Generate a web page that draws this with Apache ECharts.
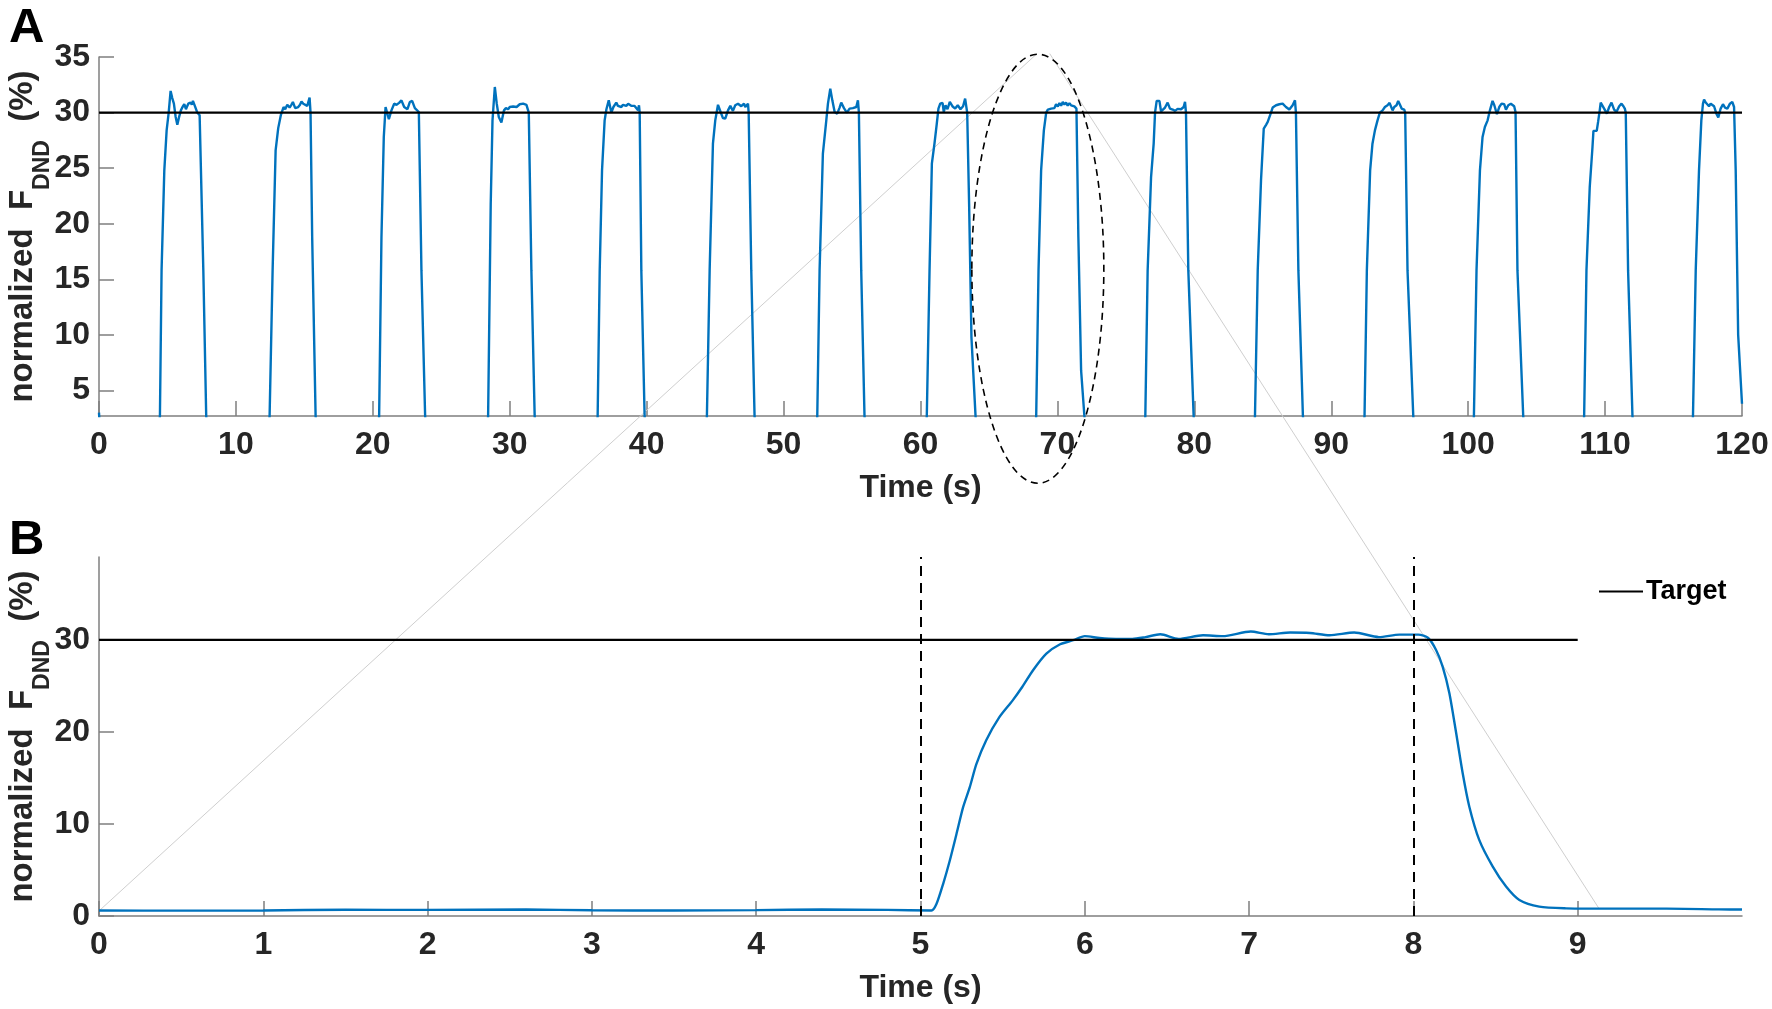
<!DOCTYPE html>
<html>
<head>
<meta charset="utf-8">
<title>normalized F_DND</title>
<script src="https://cdn.jsdelivr.net/npm/echarts@6.0.0/dist/echarts.min.js"></script>
<style>
  html, body { margin: 0; padding: 0; background: #fff; }
  #main { width: 1772px; height: 1009px; }
</style>
</head>
<body>
<div id="main"></div>
<script>
// ---- data ----
var targetLevel = 30;

// panel A: 120 s trial, 15 contractions  [time s, force %]
var forceA = [
  [0, 3.0], [0.1, 0.7], [4.3, 0.7],
  [4.45, 2.7], [4.57, 15.8], [4.77, 24.8], [4.94, 28.4], [5.09, 30.0], [5.23, 31.95], [5.35, 31.3], [5.47, 30.8], [5.6, 29.6], [5.72, 28.9], [5.85, 29.6], [5.98, 30.2], [6.1, 30.5], [6.23, 30.75], [6.35, 30.3], [6.45, 30.6], [6.52, 30.8], [6.6, 30.7], [6.69, 30.9], [6.78, 30.7], [6.86, 31.05], [7.0, 30.6], [7.18, 30.0], [7.35, 29.75], [7.45, 29.6], [7.62, 15.8], [7.83, 2.7], [7.95, 0.7],
  [12.35, 0.7], [12.46, 2.7], [12.68, 15.8], [12.9, 26.6], [13.09, 28.6], [13.28, 29.76], [13.48, 30.5], [13.6, 30.3], [13.75, 30.7], [13.92, 30.45], [14.05, 30.7], [14.16, 30.95], [14.33, 30.4], [14.45, 30.5], [14.55, 30.5], [14.68, 30.7], [14.79, 31.0], [14.92, 30.8], [15.04, 30.65], [15.21, 30.6], [15.38, 31.35], [15.45, 30.0], [15.57, 18.8], [15.82, 2.7], [15.95, 0.7],
  [20.35, 0.7], [20.46, 2.7], [20.63, 18.8], [20.8, 27.8], [20.93, 30.5], [21.02, 30.6], [21.17, 29.4], [21.36, 30.2], [21.56, 30.8], [21.73, 30.7], [21.92, 30.87], [22.09, 31.1], [22.29, 30.5], [22.53, 30.3], [22.7, 30.95], [22.87, 31.05], [23.07, 30.4], [23.21, 30.5], [23.36, 30.05], [23.55, 15.8], [23.82, 2.7], [23.95, 0.7],
  [28.3, 0.7], [28.42, 2.7], [28.61, 21.8], [28.74, 29.3], [28.91, 32.3], [29.05, 30.8], [29.2, 29.6], [29.39, 29.1], [29.58, 30.2], [29.72, 30.4], [29.88, 30.3], [30.0, 30.5], [30.12, 30.45], [30.25, 30.55], [30.37, 30.6], [30.5, 30.5], [30.61, 30.65], [30.73, 30.75], [30.85, 30.7], [30.98, 30.8], [31.1, 30.65], [31.22, 30.7], [31.34, 30.6], [31.39, 30.0], [31.58, 15.8], [31.82, 2.7], [31.95, 0.7],
  [36.3, 0.7], [36.42, 2.7], [36.57, 15.8], [36.74, 24.8], [36.93, 29.3], [37.06, 30.3], [37.23, 31.1], [37.3, 31.17], [37.42, 30.0], [37.57, 30.5], [37.78, 30.9], [37.9, 30.6], [38.03, 30.65], [38.15, 30.5], [38.27, 30.7], [38.51, 30.6], [38.65, 30.8], [38.76, 30.95], [38.9, 30.6], [39.0, 30.5], [39.12, 30.6], [39.24, 30.7], [39.37, 30.2], [39.44, 30.65], [39.49, 30.0], [39.61, 15.8], [39.85, 2.7], [39.98, 0.7],
  [44.3, 0.7], [44.4, 2.7], [44.6, 15.8], [44.84, 27.2], [45.01, 29.3], [45.21, 30.7], [45.4, 30.05], [45.57, 29.5], [45.74, 29.46], [45.94, 30.2], [46.11, 30.6], [46.3, 30.15], [46.47, 30.66], [46.67, 30.8], [46.91, 30.57], [47.11, 30.8], [47.2, 30.5], [47.4, 30.8], [47.45, 30.0], [47.64, 15.8], [47.88, 2.7], [48.0, 0.7],
  [52.35, 0.7], [52.46, 2.7], [52.63, 15.8], [52.87, 26.3], [53.12, 29.3], [53.24, 30.8], [53.41, 32.15], [53.56, 31.1], [53.73, 30.06], [53.92, 29.9], [54.09, 30.45], [54.21, 30.9], [54.41, 30.4], [54.62, 30.0], [54.82, 30.36], [55.06, 30.4], [55.31, 30.5], [55.43, 31.1], [55.5, 30.0], [55.67, 15.8], [55.91, 2.7], [56.05, 0.7],
  [60.35, 0.7], [60.46, 2.7], [60.66, 15.8], [60.83, 25.4], [61.02, 27.2], [61.19, 29.0], [61.31, 30.36], [61.44, 30.8], [61.61, 30.87], [61.7, 30.05], [61.83, 30.66], [61.97, 30.3], [62.14, 30.96], [62.33, 30.57], [62.53, 30.36], [62.72, 30.66], [62.92, 30.3], [63.11, 30.57], [63.26, 31.26], [63.33, 31.35], [63.41, 30.0], [63.55, 21.8], [63.72, 9.8], [64.02, 2.7], [64.15, 0.7],
  [68.35, 0.7], [68.45, 2.7], [68.62, 15.8], [68.81, 24.8], [69.01, 28.4], [69.18, 30.0], [69.3, 30.27], [69.42, 30.15], [69.54, 30.35], [69.66, 30.5], [69.78, 30.4], [69.9, 30.75], [70.03, 30.55], [70.15, 30.85], [70.27, 30.62], [70.39, 30.95], [70.51, 30.72], [70.63, 30.9], [70.75, 30.62], [70.88, 30.85], [71.0, 30.65], [71.12, 30.8], [71.24, 30.55], [71.39, 30.36], [71.53, 18.8], [71.73, 6.8], [71.97, 2.7], [72.1, 0.7],
  [76.3, 0.7], [76.42, 2.7], [76.59, 15.8], [76.84, 24.2], [77.03, 27.2], [77.13, 30.0], [77.25, 31.05], [77.45, 31.05], [77.57, 30.1], [77.69, 30.2], [77.86, 30.45], [78.05, 30.9], [78.22, 30.36], [78.42, 30.27], [78.59, 30.15], [78.78, 30.33], [79.03, 30.3], [79.22, 30.5], [79.32, 30.96], [79.39, 30.0], [79.56, 15.8], [79.95, 2.7], [80.08, 0.7],
  [84.3, 0.7], [84.43, 2.7], [84.63, 15.8], [84.87, 23.9], [85.07, 28.56], [85.24, 28.9], [85.36, 29.16], [85.48, 29.0], [85.6, 30.0], [85.72, 30.45], [85.97, 30.66], [86.21, 30.75], [86.45, 30.8], [86.69, 30.5], [86.94, 30.27], [87.18, 30.66], [87.35, 31.1], [87.42, 30.0], [87.6, 15.8], [87.93, 2.7], [88.05, 0.7],
  [92.3, 0.7], [92.43, 2.7], [92.6, 15.8], [92.84, 24.8], [93.01, 27.2], [93.19, 28.4], [93.38, 29.3], [93.55, 30.0], [93.75, 30.2], [93.92, 30.5], [94.11, 30.66], [94.26, 30.87], [94.36, 30.7], [94.48, 30.2], [94.6, 30.5], [94.77, 30.66], [94.89, 31.05], [95.02, 30.7], [95.14, 30.36], [95.33, 30.27], [95.4, 30.0], [95.57, 15.8], [95.99, 2.7], [96.1, 0.7],
  [100.3, 0.7], [100.42, 2.7], [100.61, 15.8], [100.86, 24.8], [101.05, 27.8], [101.22, 28.7], [101.42, 29.3], [101.59, 30.2], [101.78, 31.05], [101.91, 30.66], [102.1, 29.85], [102.27, 30.5], [102.44, 30.8], [102.63, 30.75], [102.76, 30.27], [102.93, 30.66], [103.12, 30.8], [103.24, 30.66], [103.36, 30.57], [103.46, 30.05], [103.6, 15.8], [104.02, 2.7], [104.15, 0.7],
  [108.35, 0.7], [108.47, 2.7], [108.64, 15.8], [108.88, 23.3], [109.08, 26.9], [109.15, 28.35], [109.27, 28.2], [109.39, 28.35], [109.49, 29.16], [109.61, 30.2], [109.68, 30.9], [109.81, 30.8], [109.93, 30.36], [110.13, 29.9], [110.3, 30.5], [110.47, 30.9], [110.66, 30.27], [110.83, 30.06], [111.03, 30.57], [111.2, 30.8], [111.34, 30.57], [111.44, 30.36], [111.51, 30.0], [111.68, 15.8], [112.0, 2.7], [112.12, 0.7],
  [116.3, 0.7], [116.42, 2.7], [116.62, 15.8], [116.86, 24.8], [117.03, 29.3], [117.15, 30.8], [117.23, 31.17], [117.35, 30.9], [117.47, 30.75], [117.59, 30.57], [117.71, 30.8], [117.84, 30.87], [117.96, 30.57], [118.13, 29.9], [118.27, 29.55], [118.44, 30.36], [118.61, 30.75], [118.76, 30.45], [118.93, 30.36], [119.12, 30.8], [119.29, 30.96], [119.42, 30.5], [119.54, 24.8], [119.72, 10.0], [120.0, 3.8]
];

// panel B: one 10 s window (the circled contraction)
var forceB = [
  [0, 0.6], [0.5, 0.58], [1.0, 0.6], [1.5, 0.68], [2.0, 0.66], [2.6, 0.7], [3.0, 0.62], [3.5, 0.6], [4.0, 0.64], [4.4, 0.7], [4.8, 0.66], [5.067, 0.6],
  [5.097, 1.3], [5.138, 3.5], [5.178, 6.0], [5.219, 8.9], [5.259, 11.8], [5.3, 14.0], [5.34, 16.5], [5.4, 19.1], [5.48, 21.6], [5.56, 23.4], [5.62, 24.9], [5.685, 26.7], [5.766, 28.5], [5.847, 29.5], [5.929, 29.96],
  [6.0, 30.4], [6.09, 30.2], [6.19, 30.1], [6.29, 30.1], [6.37, 30.3], [6.46, 30.6], [6.57, 30.1], [6.72, 30.5], [6.84, 30.4], [7.01, 30.9], [7.12, 30.6], [7.25, 30.8], [7.37, 30.75], [7.49, 30.5], [7.64, 30.8], [7.79, 30.3], [7.915, 30.57], [8.03, 30.57],
  [8.09, 30.2], [8.138, 28.9], [8.178, 27.1], [8.219, 24.2], [8.26, 19.9], [8.3, 15.5], [8.34, 11.9], [8.4, 8.3], [8.483, 5.37], [8.564, 3.2], [8.645, 1.74], [8.766, 1.02], [8.93, 0.83], [9.13, 0.8], [9.54, 0.8], [9.86, 0.72], [10, 0.7]
];
var targetSpanA = [0, 120];
var targetSpanB = [0, 9];
var cueTimesB = [5, 8];

var xTicksA = [0, 10, 20, 30, 40, 50, 60, 70, 80, 90, 100, 110, 120];
var yTicksA = [5, 10, 15, 20, 25, 30, 35];
var xTicksB = [0, 1, 2, 3, 4, 5, 6, 7, 8, 9];
var yTicksB = [0, 10, 20, 30];

// zoom annotation (ellipse in panel A data units, guide lines [grid, x, y])
var zoomEllipse = { x: 68.57, y: 15.95, rx: 4.82, ry: 19.3 };
var guideLines = [
  [[1, 0, 0.55], [0, 68.42, 35.2]],
  [[0, 69.44, 35.3], [1, 9.13, 0.8]]
];

// ---- chart ----
var FONT = "'Liberation Sans', Arial, sans-serif";
var TXT = '#262626';
var AX = '#7f7f7f';
var BLUE = '#0072BD';

function xAxisOf(grid, max, ticks) {
  return {
    type: 'value', gridIndex: grid, min: 0, max: max,
    name: 'Time (s)', nameLocation: 'middle', nameGap: 56, nameMoveOverlap: false,
    nameTextStyle: { fontFamily: FONT, fontSize: 32, fontWeight: 'bold', color: TXT },
    axisLine: { show: true, onZero: false, lineStyle: { color: AX, width: 1.5 } },
    axisTick: { show: true, inside: true, length: 15, customValues: ticks, lineStyle: { color: AX, width: 1.5 } },
    axisLabel: { customValues: ticks, margin: 13, fontFamily: FONT, fontSize: 32, fontWeight: 'bold', color: TXT },
    splitLine: { show: false }
  };
}
function yAxisOf(grid, min, max, ticks) {
  return {
    type: 'value', gridIndex: grid, min: min, max: max,
    name: '{n|normalized  F}{s|DND}{n|  (%)}', nameLocation: 'middle', nameRotate: 90, nameGap: 45,
    nameMoveOverlap: false,
    nameTextStyle: {
      rich: {
        n: { fontFamily: FONT, fontSize: 33, fontWeight: 'bold', color: TXT, lineHeight: 63, verticalAlign: 'middle' },
        s: { fontFamily: FONT, fontSize: 23, fontWeight: 'bold', color: TXT, lineHeight: 23, verticalAlign: 'bottom' }
      }
    },
    axisLine: { show: true, onZero: false, lineStyle: { color: AX, width: 1.5 } },
    axisTick: { show: true, inside: true, length: 15, customValues: ticks, lineStyle: { color: AX, width: 1.5 } },
    axisLabel: { customValues: ticks, margin: 9, fontFamily: FONT, fontSize: 32, fontWeight: 'bold', color: TXT },
    splitLine: { show: false }
  };
}

var chart = echarts.init(document.getElementById('main'), null, { renderer: 'canvas' });

var option = {
  animation: false,
  backgroundColor: '#fff',
  grid: [
    { left: 99, top: 57, width: 1643, height: 359, outerBoundsMode: 'none' },
    { left: 99, top: 557, width: 1643, height: 359, outerBoundsMode: 'none' }
  ],
  xAxis: [xAxisOf(0, 120, xTicksA), xAxisOf(1, 10, xTicksB)],
  yAxis: [yAxisOf(0, 2.7, 35, yTicksA), yAxisOf(1, 0, 39, yTicksB)],
  legend: {
    data: ['Target'], left: 1594, top: 573, icon: 'rect', itemWidth: 44, itemHeight: 2, itemGap: 0,
    selectedMode: false,
    textStyle: { fontFamily: FONT, fontSize: 27, fontWeight: 'bold', color: '#000', padding: [0, 0, 0, -2] }
  },
  series: [
    {
      name: 'Force A', type: 'line', xAxisIndex: 0, yAxisIndex: 0, data: forceA,
      showSymbol: false, symbol: 'none', clip: true, z: 3,
      lineStyle: { color: BLUE, width: 2.4 }, itemStyle: { color: BLUE }
    },
    {
      name: 'Target', type: 'line', xAxisIndex: 0, yAxisIndex: 0,
      data: targetSpanA.map(function (t) { return [t, targetLevel]; }),
      symbol: 'none', z: 4, lineStyle: { color: '#000', width: 2.2 }, itemStyle: { color: '#000' }
    },
    {
      name: 'Force B', type: 'line', xAxisIndex: 1, yAxisIndex: 1, data: forceB,
      showSymbol: false, symbol: 'none', smooth: 0.25, z: 3,
      lineStyle: { color: BLUE, width: 2.4 }, itemStyle: { color: BLUE },
      markLine: {
        silent: true, symbol: 'none', label: { show: false },
        lineStyle: { color: '#000', width: 2, type: [10, 7] },
        data: cueTimesB.map(function (t) { return { xAxis: t }; })
      }
    },
    {
      name: 'Target', type: 'line', xAxisIndex: 1, yAxisIndex: 1,
      data: targetSpanB.map(function (t) { return [t, targetLevel]; }),
      symbol: 'none', z: 4, lineStyle: { color: '#000', width: 2.2 }, itemStyle: { color: '#000' }
    }
  ]
};
chart.setOption(option);

// annotations placed through the axes' own scales
function px(g, x, y) { return chart.convertToPixel({ gridIndex: g }, [x, y]); }
var c = px(0, zoomEllipse.x, zoomEllipse.y);
var cx = px(0, zoomEllipse.x + zoomEllipse.rx, zoomEllipse.y);
var cy = px(0, zoomEllipse.x, zoomEllipse.y + zoomEllipse.ry);

var graphics = [
  { type: 'text', left: 9, top: 4, style: { text: 'A', font: 'bold 49px ' + FONT, fill: '#000' } },
  { type: 'text', left: 9, top: 516, style: { text: 'B', font: 'bold 49px ' + FONT, fill: '#000' } },
  {
    type: 'ellipse', z: 20, silent: true,
    shape: { cx: c[0], cy: c[1], rx: cx[0] - c[0], ry: c[1] - cy[1] },
    style: { fill: 'none', stroke: '#000', lineWidth: 1.6, lineDash: [7, 5] }
  }
];
guideLines.forEach(function (l) {
  var a = px(l[0][0], l[0][1], l[0][2]);
  var b = px(l[1][0], l[1][1], l[1][2]);
  graphics.push({
    type: 'line', z: 1, silent: true,
    shape: { x1: a[0], y1: a[1], x2: b[0], y2: b[1] },
    style: { stroke: '#cfcfcf', lineWidth: 1 }
  });
});
chart.setOption({ graphic: graphics });
</script>
</body>
</html>
